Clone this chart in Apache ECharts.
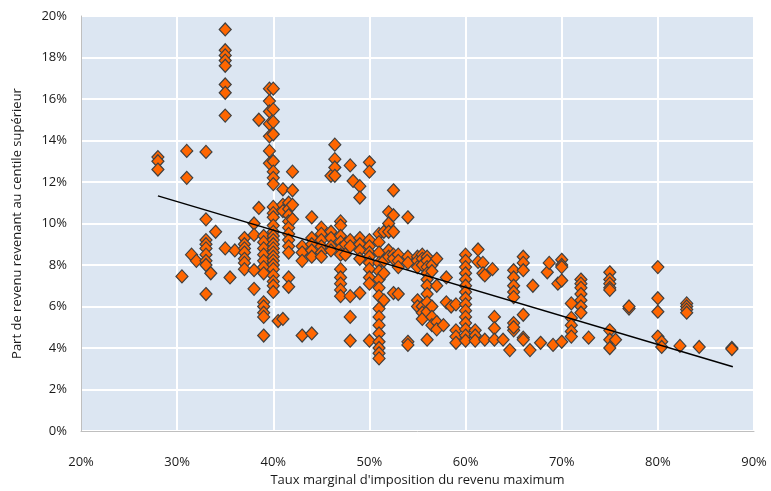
<!DOCTYPE html>
<html><head><meta charset="utf-8">
<script src="https://cdn.jsdelivr.net/npm/echarts@6/dist/echarts.min.js"></script>
<style>html,body{margin:0;padding:0;background:#fff}#c{width:771px;height:491px}</style>
</head><body><div id="c"></div>
<script>
// Columns of points: tax rate (x, %) and top 1% income share values (y, %)
const taxRates = [28,30.5,31,31.5,32,33,33.5,34,35,35.5,36,37,38,38.5,39,39.6,40,40.5,41,41.6,42,43,44,45,46,46.4,47,47.5,48,48.3,49,50,51,51.5,52,52.5,53,54,55,55.5,56,56.5,57,57.7,58,58.5,59,60,61,61.3,61.8,62,62.8,63,63.9,64.6,65,66,66.7,67,67.8,68.5,68.7,69.1,69.6,70,71,72,72.8,75,75.6,77,80,80.4,82.3,83,84.3,87.7];
const topShares = [
  [13.2,13.0,12.6],
  [7.45],
  [13.5,12.2],
  [8.5],
  [8.2],
  [13.45,10.2,9.2,9.0,8.8,8.5,8.2,8.0,6.6],
  [7.6],
  [9.6],
  [19.35,18.35,18.1,17.85,17.6,16.7,16.3,15.2,8.8],
  [7.4],
  [8.7],
  [9.3,9.0,8.8,8.6,8.3,8.1,7.8],
  [10.0,9.45,7.75,6.85],
  [10.75,15.0],
  [9.4,9.1,8.8,8.5,8.2,7.9,7.6,6.2,6.0,5.7,5.5,4.6],
  [16.5,15.9,15.4,14.8,14.2,13.5,12.9],
  [16.5,15.5,14.9,14.3,13.0,12.5,12.2,11.9,10.8,10.5,10.3,9.9,9.6,9.4,9.2,9.0,8.8,8.6,8.4,8.2,8.0,7.8,7.5,7.2,7.0,6.7],
  [5.3],
  [11.65,5.4,10.9,10.6],
  [11.0,10.7,10.4,10.1,9.8,9.5,9.2,8.9,8.6,7.4,6.95],
  [12.5,11.6,10.9,10.2],
  [8.9,8.6,8.2,4.6],
  [10.3,9.3,9.0,8.7,8.4,4.7],
  [9.8,9.5,9.2,8.9,8.6,8.4],
  [9.6,9.3,8.9,12.3,8.7],
  [13.8,13.1,12.7,12.3],
  [10.1,9.9,9.4,9.1,8.8,8.5,7.8,7.4,7.1,6.8,6.5],
  [9.0,8.5],
  [12.8,9.2,8.9,6.5,5.5,4.35],
  [12.05],
  [11.8,11.25,9.3,9.0,8.7,8.3,6.65],
  [12.95,12.5,9.2,8.9,8.6,8.4,8.1,7.8,7.4,7.1,4.35],
  [9.5,9.1,8.6,8.1,7.7,7.3,6.9,6.5,5.9,5.5,5.1,4.7,4.3,4.0,3.75,3.5],
  [9.6,8.2,7.6,6.3],
  [10.55,10.0,9.6,8.7,8.4],
  [11.6,10.4,9.6,8.5,8.3,6.65],
  [8.5,8.2,7.9,6.6],
  [10.3,8.4,8.1,4.3,4.15],
  [8.4,8.2,7.9,6.3,6.0],
  [8.5,8.3,8.0,6.0,5.7,5.4],
  [8.4,8.2,7.9,7.6,7.3,7.0,6.6,6.2,5.75,4.4],
  [8.0,7.7,6.0,5.5,5.1],
  [8.3,7.0,5.25,4.9],
  [5.1],
  [7.4,6.2],
  [6.0],
  [4.85,4.55,4.25,6.1],
  [8.5,8.2,7.9,7.6,7.3,7.0,6.7,6.4,6.1,5.8,5.5,5.2,4.9,4.6,4.35],
  [4.85,4.6,4.35],
  [8.75,8.15],
  [8.1,7.6],
  [4.4,7.5],
  [7.8],
  [5.5,4.95,4.4],
  [4.4],
  [3.9],
  [7.75,7.4,7.0,6.7,6.45,5.2,4.85,5.0],
  [8.4,8.1,7.75,5.6,4.5,4.4],
  [3.9],
  [7.0],
  [4.25],
  [7.65],
  [8.1],
  [4.15],
  [7.1],
  [8.25,8.0,7.9,7.25,4.3],
  [6.15,5.45,5.1,4.8,4.55],
  [7.3,7.1,6.9,6.6,6.3,6.0,5.7],
  [4.5],
  [7.65,7.3,7.1,6.9,6.8,4.85,4.4,4.0],
  [4.4],
  [5.9,6.0],
  [7.9,6.4,5.75,4.55],
  [4.3,4.05],
  [4.1],
  [6.15,6.0,5.85,5.7],
  [4.05],
  [4.0,3.95]
];
// Linear trend line end points (x %, y %)
const trendX = [28, 87.8];
const trendY = [11.33, 3.1];
const xTicks = [20,30,40,50,60,70,80,90];
const yTicks = [0,2,4,6,8,10,12,14,16,18,20];

const points = [];
taxRates.forEach((x,i)=>topShares[i].forEach(y=>points.push([x,y])));
const trend = trendX.map((x,i)=>[x,trendY[i]]);

const chart = echarts.init(document.getElementById('c'), null, {renderer:'canvas'});
const font = 'Open Sans, Noto Sans, sans-serif';
chart.setOption({
  animation:false,
  backgroundColor:'#ffffff',
  grid:{left:81,right:17,top:16,bottom:60,show:true,containLabel:false,outerBoundsMode:'none',backgroundColor:'#dce6f2',borderColor:'#bfbfbf',borderWidth:1},
  xAxis:{type:'value',min:xTicks[0],max:xTicks[xTicks.length-1],interval:10,
    name:"Taux marginal d'imposition du revenu maximum",nameLocation:'middle',nameGap:43,
    nameTextStyle:{fontFamily:font,fontSize:13,color:'#1a1a1a'},
    axisLine:{show:true,lineStyle:{color:'#bfbfbf',width:1}},axisTick:{show:false},
    axisLabel:{formatter:'{value}%',fontFamily:font,fontSize:13,color:'#1a1a1a',margin:25},
    splitLine:{show:true,lineStyle:{color:'#ffffff',width:2}}},
  yAxis:{type:'value',min:yTicks[0],max:yTicks[yTicks.length-1],interval:2,
    name:'Part de revenu revenant au centile supérieur',nameLocation:'middle',nameGap:57,
    nameTextStyle:{fontFamily:font,fontSize:13,color:'#1a1a1a'},
    axisLine:{show:true,lineStyle:{color:'#bfbfbf',width:1}},axisTick:{show:false},
    axisLabel:{formatter:'{value}%',fontFamily:font,fontSize:13,color:'#1a1a1a',margin:14},
    splitLine:{show:true,lineStyle:{color:'#ffffff',width:2}}},
  series:[
    {type:'scatter',data:points,symbol:'diamond',symbolSize:[12,13],
      itemStyle:{color:'#ff6600',borderColor:'#404040',borderWidth:1.2,opacity:1}},
    {type:'line',data:trend,symbol:'none',lineStyle:{color:'#000000',width:1.5},z:5}
  ]
});
</script></body></html>
